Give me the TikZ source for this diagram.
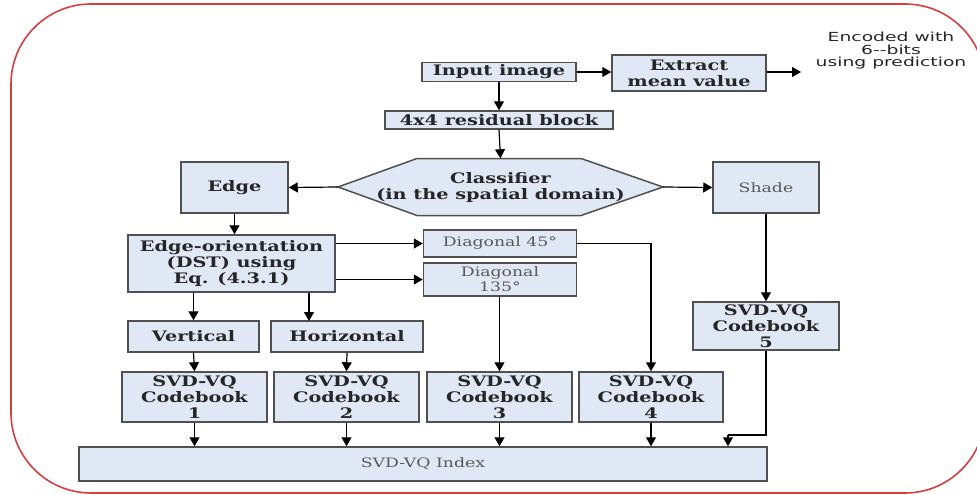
\documentclass[tikz,border=0pt]{standalone}
\usepackage{fontspec}
\usetikzlibrary{arrows.meta}
\newfontfamily\diafont[FakeStretch=1.33]{DejaVu Serif}
\newfontfamily\notefont[FakeStretch=1.5]{DejaVu Sans}
\definecolor{boxblue}{RGB}{225,232,245}
\definecolor{framered}{RGB}{214,62,62}
\definecolor{boxline}{RGB}{80,80,80}

\begin{document}
\begin{tikzpicture}[x=1pt, y=-1pt,
    blk/.style={draw=boxline, line width=1.5pt, fill=boxblue, inner sep=0pt, align=center,
      text=black!85, font=\diafont\bfseries\fontsize{14.5}{16}\selectfont},
    lblk/.style={blk, text=black!65, font=\diafont\fontsize{13}{15}\selectfont},
    arr/.style={-{Triangle[length=9pt,width=10pt]}, line width=1.2pt},
    ln/.style={line width=1.2pt}]
  \useasboundingbox (0,0) rectangle (977,495);
  % outer frame
  \draw[framered, line width=1.6pt, rounded corners=80pt] (11,4) rectangle (985,493);

  % top row
  \node[blk, minimum width=154pt, minimum height=19pt] (input) at (499,72) {Input image};
  \node[blk, minimum width=154pt, minimum height=36pt] (extract) at (689,73) {Extract\\mean value};
  \node[align=center, text=black!85, font=\notefont\fontsize{12.5}{12.5}\selectfont] (enc) at (891,51)
    {Encoded with\\6-{}-bits\\using prediction};
  \coordinate (encin) at (801,72);
  \node[blk, minimum width=228pt, minimum height=18pt] (res) at (499,120) {4x4 residual block};

  % classifier
  \path[draw=boxline, line width=1.5pt, fill=boxblue]
    (338,187) -- (417,158.5) -- (581,158.5) -- (663,187) -- (581,215.5) -- (417,215.5) -- cycle;
  \node[align=center, minimum width=325pt, minimum height=57pt, inner sep=0pt,
    text=black!85, font=\diafont\bfseries\fontsize{14.5}{16}\selectfont] (cls) at (500.5,187)
    {Classifier\\(in the spatial domain)};
  \node[blk, minimum width=107pt, minimum height=51pt] (edge) at (234.5,187.5) {Edge};
  \node[lblk, minimum width=106pt, minimum height=51pt] (shade) at (766,187.5) {Shade};

  % edge branch
  \node[blk, minimum width=207pt, minimum height=57pt] (eo) at (231.5,263.5) {Edge-orientation\\(DST) using\\Eq. (4.3.1)};
  \node[lblk, minimum width=153pt, minimum height=27pt] (d45) at (500,243.5) {Diagonal 45°};
  \node[lblk, minimum width=153pt, minimum height=33pt] (d135) at (500,279.5) {Diagonal\\135°};
  \node[blk, minimum width=131pt, minimum height=31pt] (vert) at (193.5,336.5) {Vertical};
  \node[blk, minimum width=152pt, minimum height=31pt] (hor) at (347,336.5) {Horizontal};
  \coordinate (horin) at (309,321);

  % codebooks
  \node[blk, minimum width=145pt, minimum height=50pt] (cb1) at (194.5,397) {SVD-VQ\\Codebook\\1};
  \node[blk, minimum width=145pt, minimum height=50pt] (cb2) at (346.5,397) {SVD-VQ\\Codebook\\2};
  \node[blk, minimum width=145pt, minimum height=50pt] (cb3) at (499.5,397) {SVD-VQ\\Codebook\\3};
  \node[blk, minimum width=144pt, minimum height=50pt] (cb4) at (651,397) {SVD-VQ\\Codebook\\4};
  \node[blk, minimum width=146pt, minimum height=48pt] (cb5) at (766,326) {SVD-VQ\\Codebook\\5};
  \node[lblk, minimum width=688pt, minimum height=34pt] (idx) at (423,464) {SVD-VQ Index};
  \coordinate (c5drop) at (728,435);

  % connectors
  \draw[arr] (input.east) -- (input.east -| extract.west);
  \draw[arr] (extract.east |- encin) -- (encin);
  \draw[arr] (input.south) -- (input.south |- res.north);
  \draw[arr] (res.south) -- (cls.north);
  \draw[arr] (cls.west) -- (edge.east);
  \draw[arr] (cls.east) -- (shade.west);
  \draw[arr] (edge.south) -- (edge.south |- eo.north);
  \draw[arr] (eo.east |- d45.west) -- (d45.west);
  \draw[arr] (eo.east |- d135.west) -- (d135.west);
  \draw[arr] (vert.north |- eo.south) -- (vert.north);
  \draw[arr] (horin |- eo.south) -- (horin);
  \draw[arr] (vert.south) -- (cb1.north);
  \draw[arr] (hor.south) -- (cb2.north);
  \draw[arr] (d135.south -| cb3.north) -- (cb3.north);
  \draw[arr] (d45.east) -| (cb4.north);
  \draw[arr] (shade.south) -- (cb5.north);
  \foreach \c in {cb1,cb2,cb3,cb4}
    \draw[arr] (\c.south) -- (\c.south |- idx.north);
  \draw[ln] (cb5.south) |- (c5drop);
  \draw[arr] (c5drop) -- (c5drop |- idx.north);
\end{tikzpicture}
\end{document}
